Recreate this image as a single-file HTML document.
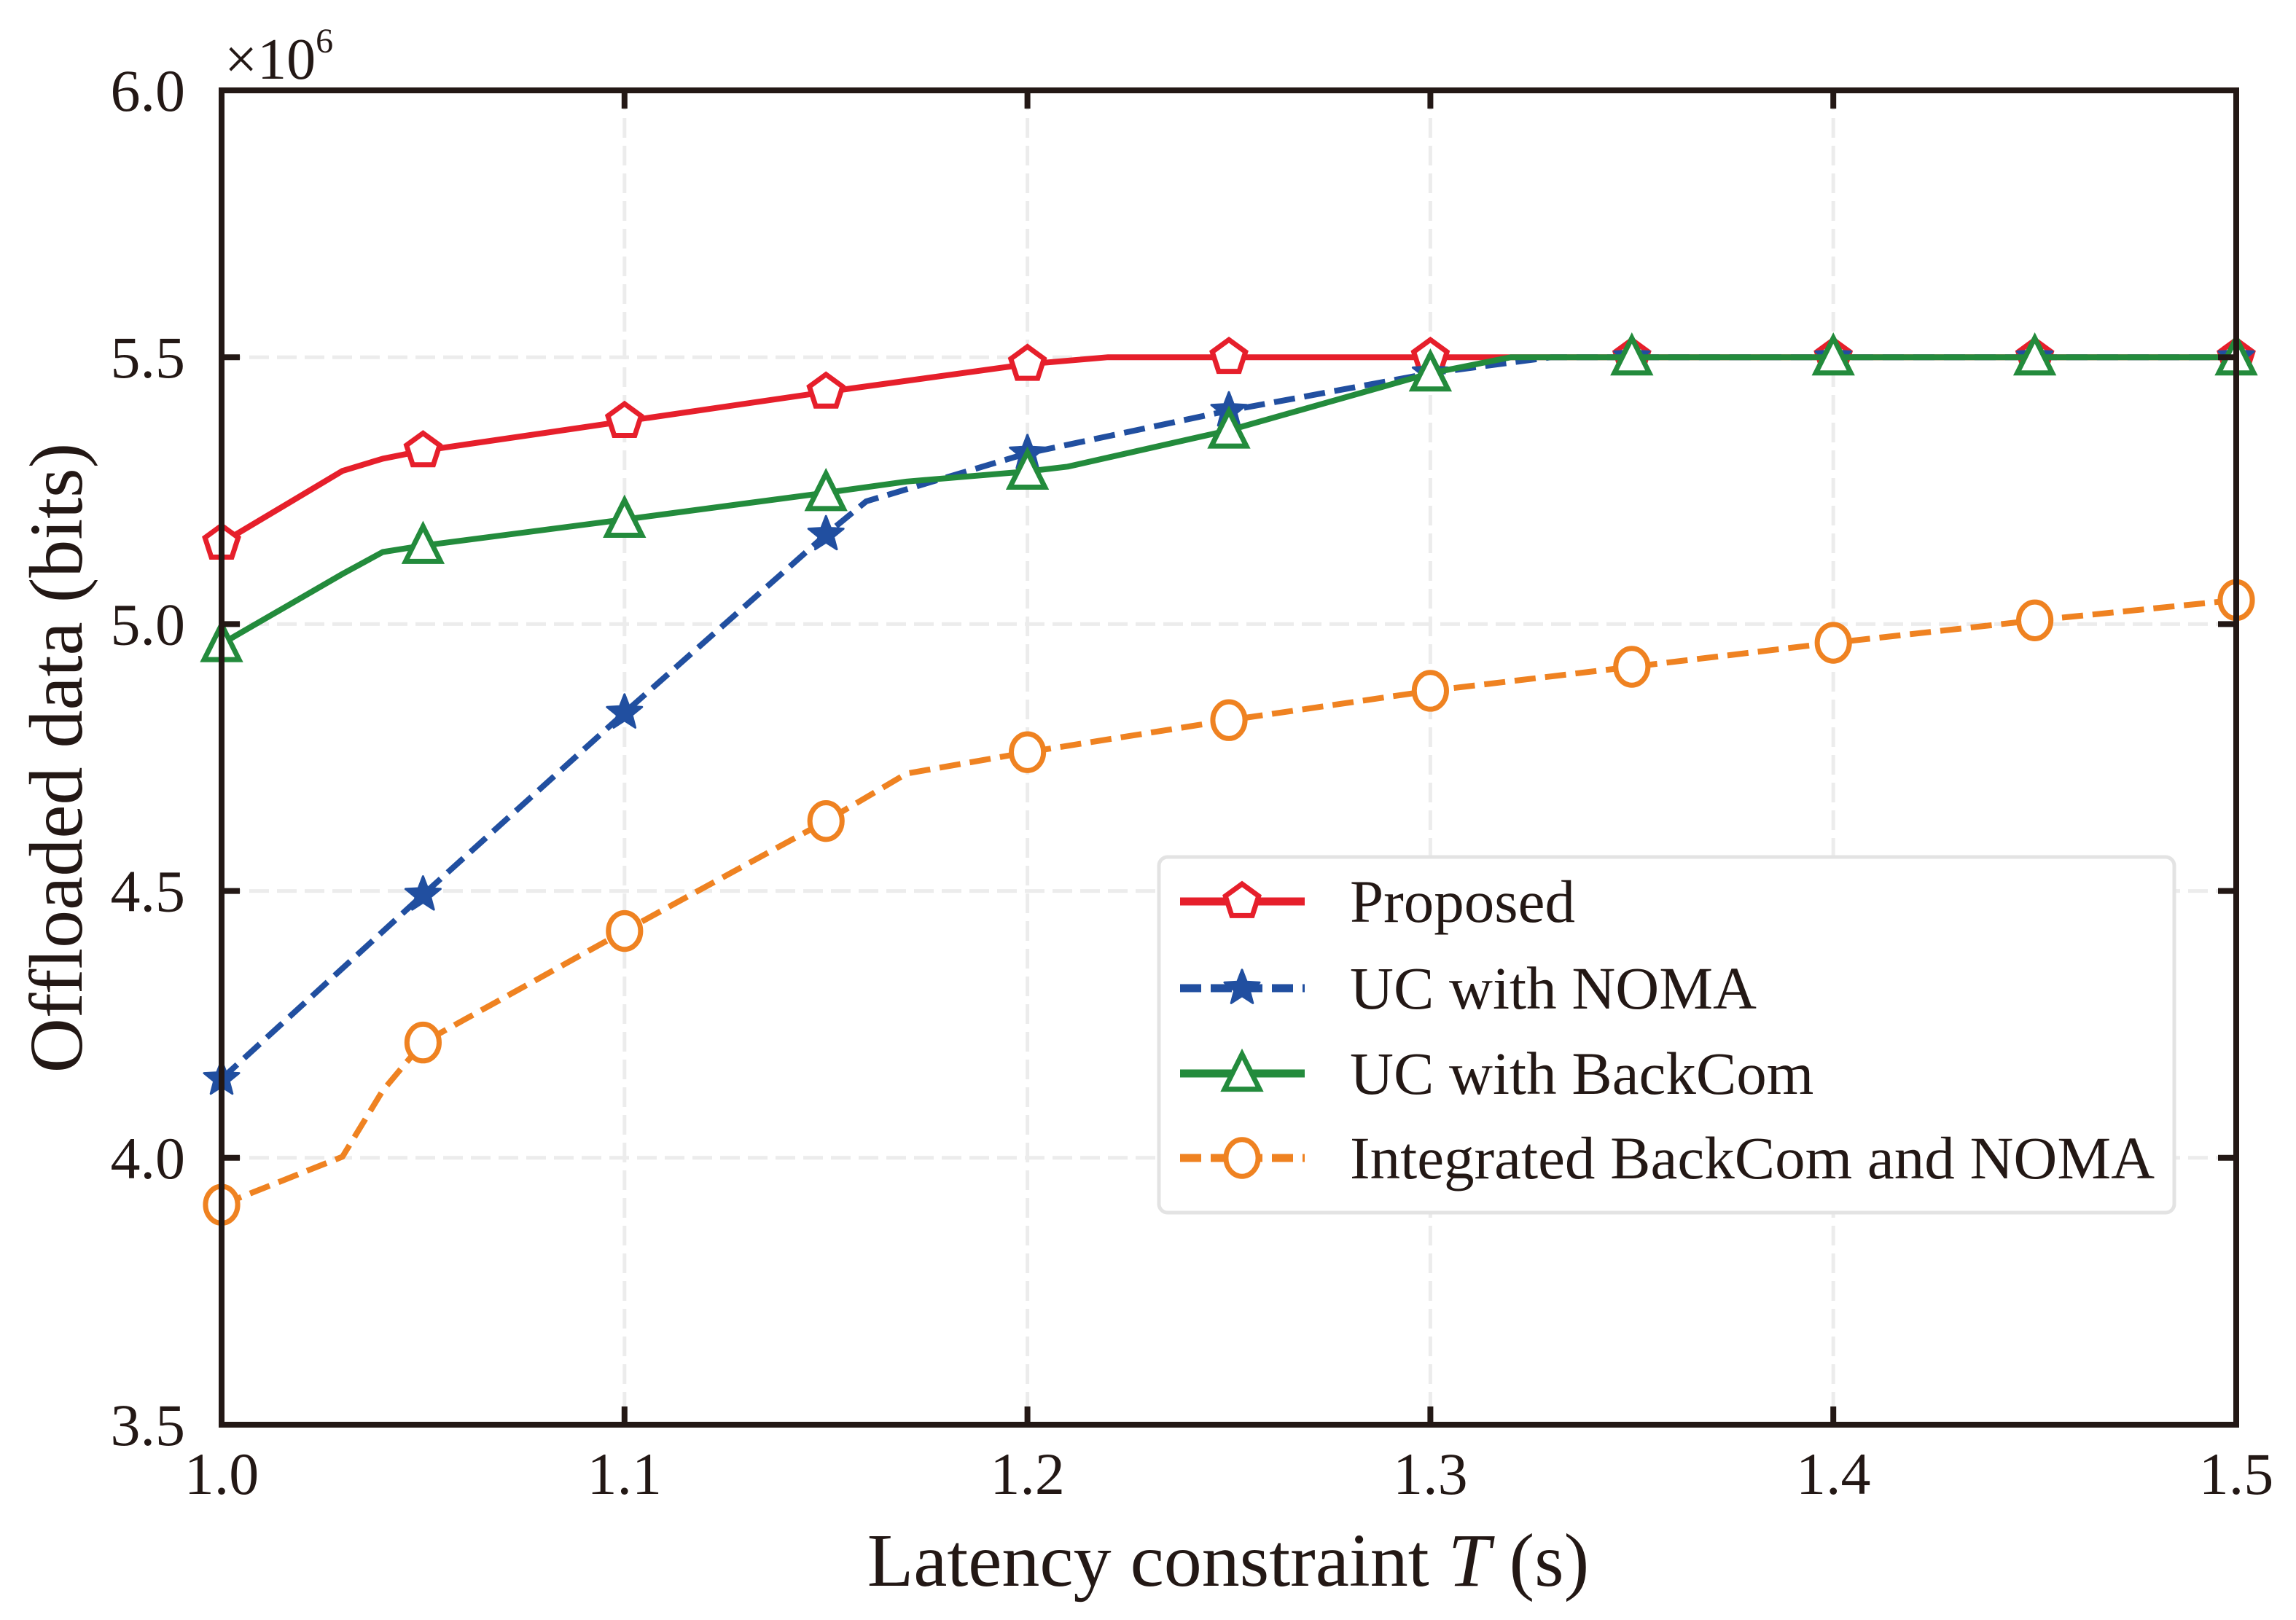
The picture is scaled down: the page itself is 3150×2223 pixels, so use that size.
<!DOCTYPE html>
<html><head><meta charset="utf-8"><style>
html,body{margin:0;padding:0;background:#fff;}
svg text{font-family:"Liberation Serif",serif;fill:#231815;}
</style></head><body>
<svg id="chart" width="3150" height="2218" viewBox="0 0 3150 2218" xmlns="http://www.w3.org/2000/svg">
<g id="grid"></g>
<g id="series"></g>
<g id="axes"></g>
<text x="308" y="108" font-size="80">×10<tspan font-size="48" dy="-36">6</tspan></text>
<text x="1685" y="2176" font-size="104" text-anchor="middle">Latency constraint <tspan font-style="italic">T</tspan> (s)</text>
<text transform="translate(112,1040) rotate(-90)" font-size="104" text-anchor="middle">Offloaded data (bits)</text>
<g id="legend"></g>
</svg>
<script>
const xTicks=[1.0,1.1,1.2,1.3,1.4,1.5];
const yTicks=[3.5,4.0,4.5,5.0,5.5,6.0];
const xTickLabels=["1.0","1.1","1.2","1.3","1.4","1.5"];
const yTickLabels=["3.5","4.0","4.5","5.0","5.5","6.0"];
const markerX=[1.0,1.05,1.1,1.15,1.2,1.25,1.3,1.35,1.4,1.45,1.5];
const propX=[1.0,1.03,1.04,1.05,1.1,1.15,1.2,1.22,1.25,1.3,1.35,1.4,1.45,1.5];
const propY=[5.152,5.287,5.31,5.325,5.38,5.435,5.487,5.5,5.5,5.5,5.5,5.5,5.5,5.5];
const nomaX=[1.0,1.05,1.1,1.15,1.16,1.2,1.25,1.3,1.33,1.35,1.4,1.45,1.5];
const nomaY=[4.148,4.493,4.834,5.168,5.23,5.32,5.40,5.47,5.5,5.5,5.5,5.5,5.5];
const backX=[1.0,1.03,1.04,1.05,1.1,1.15,1.17,1.2,1.21,1.25,1.3,1.32,1.35,1.4,1.45,1.5];
const backY=[4.963,5.094,5.135,5.147,5.196,5.246,5.267,5.286,5.295,5.363,5.47,5.5,5.5,5.5,5.5,5.5];
const intX=[1.0,1.03,1.04,1.05,1.1,1.15,1.17,1.2,1.25,1.3,1.35,1.4,1.45,1.5];
const intY=[3.912,4.002,4.126,4.216,4.425,4.631,4.72,4.76,4.82,4.875,4.92,4.965,5.007,5.045];

const X0=304,X1=3068,Y0=1955,Y1=124;
function sx(v){return X0+(v-1.0)/(1.5-1.0)*(X1-X0);}
function sy(v){return Y0-(v-3.5)/(6.0-3.5)*(Y0-Y1);}
const NS="http://www.w3.org/2000/svg";
function mk(tag,attrs,parent){const e=document.createElementNS(NS,tag);for(const k in attrs)e.setAttribute(k,attrs[k]);parent.appendChild(e);return e;}
const grid=document.getElementById('grid'),axes=document.getElementById('axes'),ser=document.getElementById('series'),leg=document.getElementById('legend');

xTicks.forEach((t,i)=>{
  const x=sx(t);
  if(i>0&&i<xTicks.length-1){const g=mk('line',{x1:x,x2:x,y1:Y1,y2:Y0,stroke:'#ececec','stroke-width':5,'stroke-dasharray':'27 11'},grid);
  
  }
  const a=mk('line',{x1:x,x2:x,y1:Y0,y2:Y0-25,stroke:'#231815','stroke-width':8},axes);
  
  
  const b=mk('line',{x1:x,x2:x,y1:Y1,y2:Y1+25,stroke:'#231815','stroke-width':8},axes);
  
  
  const tx=mk('text',{x:x,y:2050,'font-size':82,'text-anchor':'middle'},axes);tx.textContent=xTickLabels[i];
  
  
});
yTicks.forEach((t,i)=>{
  const y=sy(t);
  if(i>0&&i<yTicks.length-1){const g=mk('line',{x1:X0,x2:X1,y1:y,y2:y,stroke:'#ececec','stroke-width':5,'stroke-dasharray':'27 11'},grid);
  
  }
  const a=mk('line',{x1:X0,x2:X0+25,y1:y,y2:y,stroke:'#231815','stroke-width':8},axes);
  
  
  const b=mk('line',{x1:X1,x2:X1-25,y1:y,y2:y,stroke:'#231815','stroke-width':8},axes);
  
  
  const tx=mk('text',{x:254,y:y+28,'font-size':82,'text-anchor':'end'},axes);tx.textContent=yTickLabels[i];
  
  
});
const frame=mk('rect',{x:X0,y:Y1,width:X1-X0,height:Y0-Y1,fill:'none',stroke:'#231815','stroke-width':8},axes);



function marker(type,cx,cy,color,parent){
  const r=24;let e;
  if(type==='pent'){let p=[];for(let k=0;k<5;k++){const a=-Math.PI/2+k*2*Math.PI/5;p.push((cx+r*Math.cos(a)).toFixed(1)+','+(cy+r*Math.sin(a)).toFixed(1));}
    e=mk('polygon',{points:p.join(' '),fill:'#fff',stroke:color,'stroke-width':7},parent);}
  else if(type==='star'){let p=[];for(let k=0;k<10;k++){const rr=k%2?r*0.45:r*1.05;const a=-Math.PI/2+k*Math.PI/5;p.push((cx+rr*Math.cos(a)).toFixed(1)+','+(cy+rr*Math.sin(a)).toFixed(1));}
    e=mk('polygon',{points:p.join(' '),fill:color,stroke:color,'stroke-width':3,'stroke-linejoin':'round'},parent);}
  else if(type==='tri'){e=mk('polygon',{points:`${cx},${cy-r*1.1} ${cx+r},${cy+r*0.9} ${cx-r},${cy+r*0.9}`,fill:'#fff',stroke:color,'stroke-width':7},parent);}
  else {e=mk('ellipse',{cx:cx,cy:cy,rx:r*0.92,ry:r*1.05,fill:'#fff',stroke:color,'stroke-width':7},parent);}
  return e;
}
const series=[
 {name:'proposed',label:'Proposed',xs:propX,ys:propY,color:'#e61f2b',dash:null,m:'pent'},
 {name:'uc-noma',label:'UC with NOMA',xs:nomaX,ys:nomaY,color:'#214fa0',dash:'29 13',m:'star'},
 {name:'uc-backcom',label:'UC with BackCom',xs:backX,ys:backY,color:'#238b3c',dash:null,m:'tri'},
 {name:'integrated',label:'Integrated BackCom and NOMA',xs:intX,ys:intY,color:'#ef8221',dash:'29 13',m:'circ'}
];
series.forEach(s=>{
  const pts=s.xs.map((x,i)=>sx(x).toFixed(1)+','+sy(s.ys[i]).toFixed(1)).join(' ');
  const at={points:pts,fill:'none',stroke:s.color,'stroke-width':8,'stroke-linejoin':'round'};
  if(s.dash)at['stroke-dasharray']=s.dash;
  const pl=mk('polyline',at,ser);
  
  
  markerX.forEach(mx=>{
    const i=s.xs.indexOf(mx);if(i<0)return;
    const m=marker(s.m,sx(mx),sy(s.ys[i]),s.color,ser);
    
    
  });
});
const lb=mk('rect',{x:1590,y:1176,width:1393,height:488,rx:12,fill:'#fff',stroke:'#e3e3e3','stroke-width':5},leg);


const legY=[1237,1356,1473,1589];
series.forEach((s,i)=>{
  const y=legY[i];
  const at={x1:1619,x2:1790,y1:y,y2:y,stroke:s.color,'stroke-width':11};
  if(s.dash)at['stroke-dasharray']=s.dash;
  const l=mk('line',at,leg);
  
  
  const m=marker(s.m,1704,y,s.color,leg);
  
  
  const t=mk('text',{x:1852,y:y+28,'font-size':83},leg);t.textContent=s.label;
  
  
});
</script>
</body></html>
